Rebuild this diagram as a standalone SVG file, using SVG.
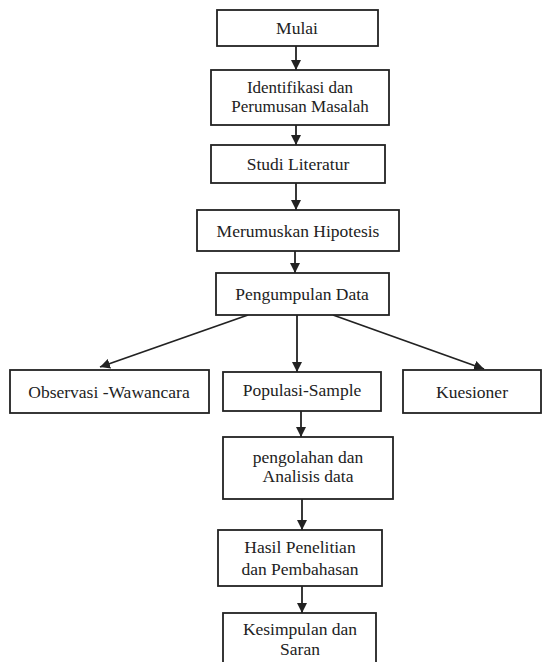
<svg xmlns="http://www.w3.org/2000/svg" width="544" height="662" viewBox="0 0 544 662">
<defs>
<style>
rect.box{fill:#fff;stroke:#222;stroke-width:1.8}
.conn line{stroke:#222;stroke-width:1.8}
</style>
<marker id="ah" viewBox="0 0 10 10" refX="10" refY="5" markerWidth="10" markerHeight="10" markerUnits="userSpaceOnUse" orient="auto">
<path d="M0,0 L10,5 L0,10 z" fill="#222"/>
</marker>
</defs>
<rect width="544" height="662" fill="#fff"/>
<g class="conn">
<line x1="296" y1="46" x2="296" y2="70" marker-end="url(#ah)"/>
<line x1="296" y1="125" x2="296" y2="145" marker-end="url(#ah)"/>
<line x1="296" y1="183" x2="296" y2="210" marker-end="url(#ah)"/>
<line x1="295" y1="251" x2="295" y2="273" marker-end="url(#ah)"/>
<line x1="248" y1="315" x2="100" y2="367" marker-end="url(#ah)"/>
<line x1="297" y1="315" x2="297" y2="372" marker-end="url(#ah)"/>
<line x1="333" y1="315" x2="484" y2="369" marker-end="url(#ah)"/>
<line x1="301" y1="411" x2="301" y2="437" marker-end="url(#ah)"/>
<line x1="302" y1="499" x2="302" y2="530" marker-end="url(#ah)"/>
<line x1="302" y1="586" x2="302" y2="613" marker-end="url(#ah)"/>
</g>
<g id="mulai"><rect class="box" x="217" y="10" width="161" height="36"/><text x="297" y="34" font-family="Liberation Serif" font-size="17.5" fill="#222" text-anchor="middle" style="font-family:'Liberation Serif',serif">Mulai</text></g>
<g id="identifikasi"><rect class="box" x="211" y="70" width="178" height="55"/><text x="300" y="93" font-family="Liberation Serif" font-size="17" fill="#222" text-anchor="middle" style="font-family:'Liberation Serif',serif">Identifikasi dan</text><text x="300" y="112" font-family="Liberation Serif" font-size="17" fill="#222" text-anchor="middle" style="font-family:'Liberation Serif',serif">Perumusan Masalah</text></g>
<g id="studi"><rect class="box" x="211" y="145" width="174" height="38"/><text x="298" y="170" font-family="Liberation Serif" font-size="17.5" fill="#222" text-anchor="middle" style="font-family:'Liberation Serif',serif">Studi Literatur</text></g>
<g id="hipotesis"><rect class="box" x="197" y="210" width="202" height="41"/><text x="298" y="237" font-family="Liberation Serif" font-size="17.5" fill="#222" text-anchor="middle" style="font-family:'Liberation Serif',serif">Merumuskan Hipotesis</text></g>
<g id="pengumpulan"><rect class="box" x="216" y="273" width="173" height="42"/><text x="302" y="300" font-family="Liberation Serif" font-size="17.5" fill="#222" text-anchor="middle" style="font-family:'Liberation Serif',serif">Pengumpulan Data</text></g>
<g id="observasi"><rect class="box" x="10" y="370" width="199" height="43"/><text x="109" y="398" font-family="Liberation Serif" font-size="17.5" fill="#222" text-anchor="middle" style="font-family:'Liberation Serif',serif">Observasi -Wawancara</text></g>
<g id="populasi"><rect class="box" x="223" y="372" width="158" height="39"/><text x="302" y="396" font-family="Liberation Serif" font-size="17.5" fill="#222" text-anchor="middle" style="font-family:'Liberation Serif',serif">Populasi-Sample</text></g>
<g id="kuesioner"><rect class="box" x="403" y="370" width="138" height="43"/><text x="472" y="398" font-family="Liberation Serif" font-size="17.5" fill="#222" text-anchor="middle" style="font-family:'Liberation Serif',serif">Kuesioner</text></g>
<g id="pengolahan"><rect class="box" x="223" y="437" width="170" height="62"/><text x="308" y="463" font-family="Liberation Serif" font-size="17.5" fill="#222" text-anchor="middle" style="font-family:'Liberation Serif',serif">pengolahan dan</text><text x="308" y="482" font-family="Liberation Serif" font-size="17.5" fill="#222" text-anchor="middle" style="font-family:'Liberation Serif',serif">Analisis data</text></g>
<g id="hasil"><rect class="box" x="218" y="530" width="164" height="56"/><text x="300" y="553" font-family="Liberation Serif" font-size="17.5" fill="#222" text-anchor="middle" style="font-family:'Liberation Serif',serif">Hasil Penelitian</text><text x="300" y="575" font-family="Liberation Serif" font-size="17.5" fill="#222" text-anchor="middle" style="font-family:'Liberation Serif',serif">dan Pembahasan</text></g>
<g id="kesimpulan"><rect class="box" x="223" y="613" width="153" height="54"/><text x="300" y="635" font-family="Liberation Serif" font-size="17.5" fill="#222" text-anchor="middle" style="font-family:'Liberation Serif',serif">Kesimpulan dan</text><text x="300" y="655" font-family="Liberation Serif" font-size="17.5" fill="#222" text-anchor="middle" style="font-family:'Liberation Serif',serif">Saran</text></g>
</svg>
